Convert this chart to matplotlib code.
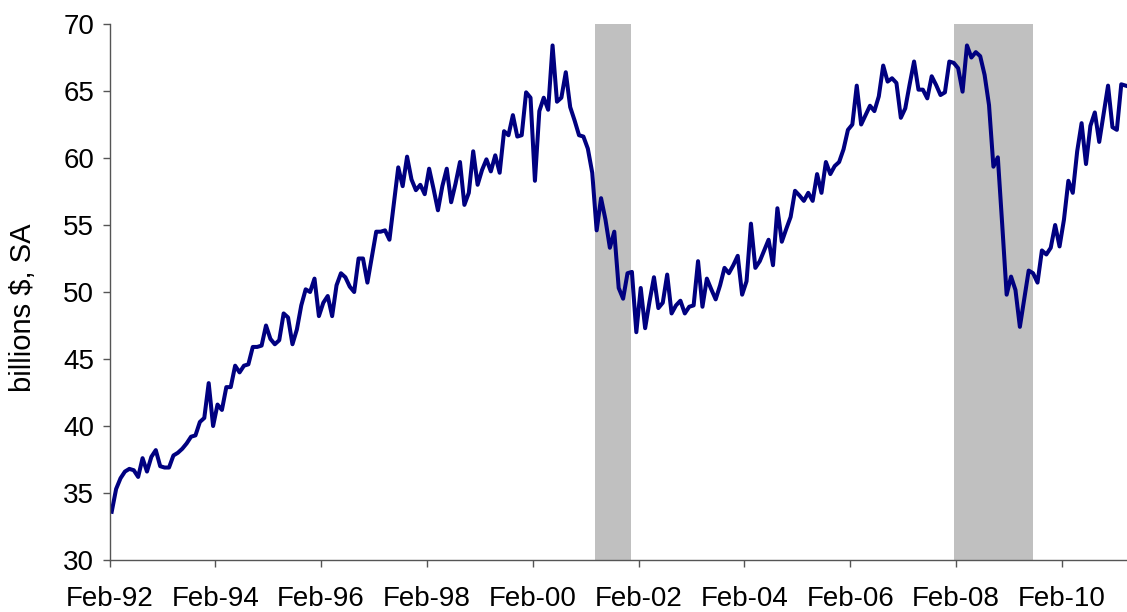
import matplotlib.pyplot as plt
import numpy as np

plt.rcParams["font.family"] = ["Liberation Sans", "DejaVu Sans"]

# monthly values, Feb-92 onward (billions $, SA)
values = [
    33.6, 35.3, 36.1, 36.6, 36.8, 36.7, 36.2, 37.6, 36.6, 37.7,
    38.2, 37.0, 36.9, 36.9, 37.8, 38.0, 38.3, 38.7, 39.2, 39.3,
    40.3, 40.6, 43.2, 40.0, 41.6, 41.2, 42.9, 42.9, 44.5, 44.0,
    44.5, 44.6, 45.9, 45.9, 46.0, 47.5, 46.5, 46.1, 46.4, 48.4,
    48.1, 46.1, 47.2, 49.0, 50.2, 50.0, 51.0, 48.2, 49.2, 49.7,
    48.2, 50.5, 51.4, 51.1, 50.4, 50.0, 52.5, 52.5, 50.7, 52.6,
    54.5, 54.5, 54.6, 53.9, 56.6, 59.3, 57.9, 60.1, 58.4, 57.6,
    58.0, 57.3, 59.2, 57.7, 56.1, 57.9, 59.2, 56.7, 58.1, 59.7,
    56.5, 57.4, 60.5, 58.0, 59.1, 59.9, 59.0, 60.2, 58.9, 62.0,
    61.7, 63.2, 61.6, 61.7, 64.9, 64.5, 58.3, 63.5, 64.5, 63.6,
    68.4, 64.2, 64.5, 66.4, 63.8, 62.8, 61.7, 61.6, 60.7, 58.9,
    54.6, 57.0, 55.4, 53.3, 54.5, 50.3, 49.5, 51.4, 51.5, 47.0,
    50.3, 47.3, 49.3, 51.1, 48.8, 49.2, 51.3, 48.4, 49.0, 49.35,
    48.4, 48.9, 49.0, 52.3, 48.9, 51.0, 50.2, 49.45, 50.5, 51.8,
    51.4, 52.0, 52.7, 49.8, 50.8, 55.1, 51.8, 52.3, 53.1, 53.9,
    52.0, 56.25, 53.75, 54.7, 55.6, 57.55, 57.2, 56.8, 57.4, 56.8,
    58.8, 57.4, 59.7, 58.8, 59.4, 59.7, 60.65, 62.1, 62.5, 65.4,
    62.5, 63.2, 63.9, 63.5, 64.6, 66.9, 65.7, 65.95, 65.6, 63.0,
    63.7, 65.5, 67.2, 65.1, 65.1, 64.45, 66.1, 65.45, 64.7, 64.9,
    67.2, 67.1, 66.7, 64.95, 68.4, 67.5, 67.9, 67.6, 66.2, 63.95,
    59.35, 60.05, 55.0, 49.8, 51.15, 50.15, 47.4, 49.5, 51.6, 51.4,
    50.7, 53.1, 52.8, 53.3, 55.0, 53.4, 55.4, 58.3, 57.4, 60.5,
    62.6, 59.55, 62.4, 63.4, 61.2, 63.3, 65.4, 62.3, 62.1, 65.5,
    65.4,
]

tick_months = [0, 24, 48, 72, 96, 120, 144, 168, 192, 216]
tick_labels = ["Feb-92", "Feb-94", "Feb-96", "Feb-98", "Feb-00",
               "Feb-02", "Feb-04", "Feb-06", "Feb-08", "Feb-10"]

# recession periods (month index from Feb-92)
recession_start = [109.7, 191.0]
recession_end = [117.8, 209.0]

W, H = 1127, 612
fig = plt.figure(figsize=(W / 100, H / 100), dpi=100)
ax = fig.add_axes([109.5 / W, 1 - 560 / H, (W - 109.5) / W, (560 - 24) / H])

for s, e in zip(recession_start, recession_end):
    ax.axvspan(s, e, color="#C0C0C0", lw=0, zorder=1)

months = np.arange(len(values))
ax.plot(months, values, color="#000080", lw=2.9, solid_joinstyle="round", zorder=3)

ax.set_xlim(-0.5, 230.3)
ax.set_ylim(30, 70)
ax.set_yticks(range(30, 71, 5))
ax.set_xticks(np.array(tick_months) - 0.5)
ax.set_xticklabels(tick_labels)

for side in ["top", "right"]:
    ax.spines[side].set_visible(False)
for side in ["left", "bottom"]:
    ax.spines[side].set_color("#555555")
    ax.spines[side].set_linewidth(1.0)
    ax.spines[side].set_zorder(4)

ax.tick_params(axis="both", direction="out", length=5, width=1.0,
               color="#555555", labelsize=20)
ax.tick_params(axis="x", pad=14)
ax.tick_params(axis="y", pad=6)
ax.set_ylabel("billions $, SA", fontsize=21)
ax.yaxis.set_label_coords(-0.071, 0.47)

fig.savefig("out.png", dpi=100)
